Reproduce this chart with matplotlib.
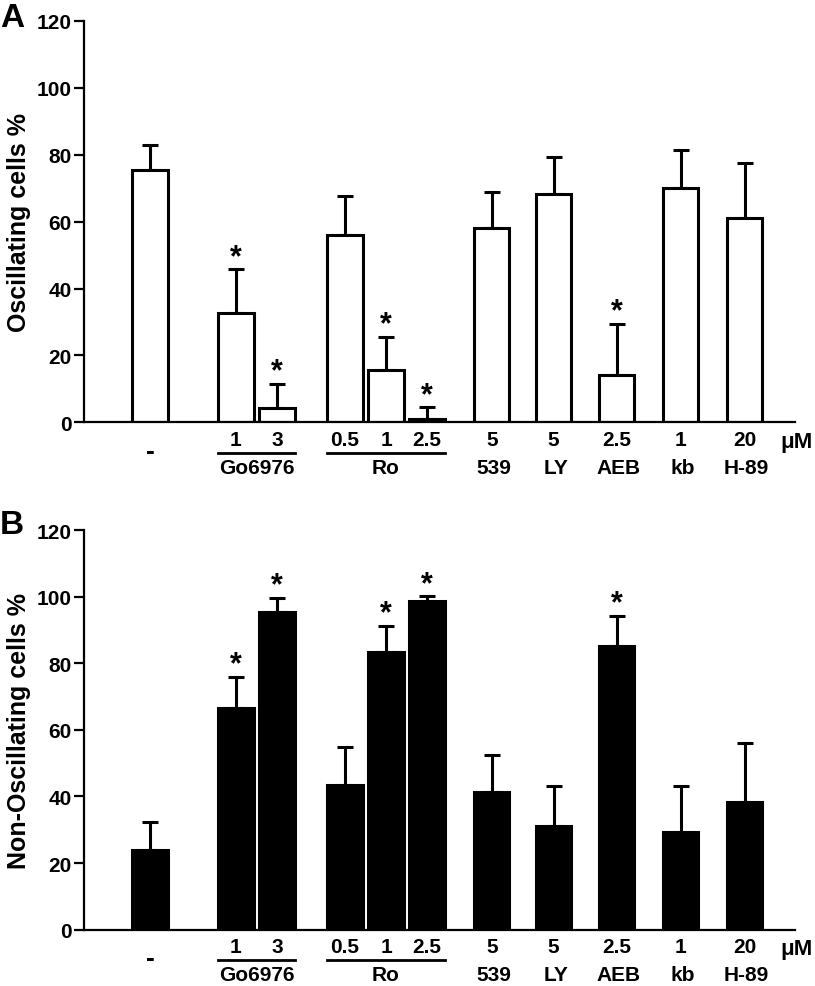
import numpy as np
import matplotlib
matplotlib.use('Agg')
import matplotlib.pyplot as plt
import matplotlib.transforms as mtransforms

plt.rcParams['font.family'] = ['Liberation Sans', 'DejaVu Sans']
plt.rcParams['font.weight'] = 'bold'

# data
conc = ['', '1', '3', '0.5', '1', '2.5', '5', '5', '2.5', '1', '20']
osc_mean = [75.5, 32.8, 4.3, 56.0, 15.7, 0.9, 58.0, 68.3, 14.2, 69.9, 61.1]
osc_err = [7.3, 12.9, 7.3, 11.5, 9.8, 3.6, 10.8, 11.1, 15.3, 11.6, 16.4]
osc_sig = [False, True, True, False, True, True, False, False, True, False, False]
non_mean = [24.0, 66.7, 95.3, 43.5, 83.4, 98.6, 41.4, 31.0, 85.1, 29.4, 38.4]
non_err = [8.4, 9.3, 4.4, 11.5, 7.8, 1.5, 11.0, 12.1, 9.1, 13.7, 17.6]
non_sig = [False, True, True, False, True, True, False, False, True, False, False]
single_names = ['539', 'LY', 'AEB', 'kb', 'H-89']
groups = [('Go6976', 1, 2), ('Ro', 3, 5)]

# layout (bar centres, in bar-pitch units)
pos = np.array([1.61, 3.71, 4.71, 6.37, 7.37, 8.37, 9.95, 11.46, 13.0, 14.56, 16.12])
width = 0.86
fs = 15


def draw_panel(ax, means, errs, sig, color, ylabel):
    ax.bar(pos, means, width=width, color=color, edgecolor='black', linewidth=2.2, zorder=2)
    lower = np.zeros(len(means))
    ax.errorbar(pos, means, yerr=[lower, errs], fmt='none', ecolor='black',
                elinewidth=2.2, capsize=6, capthick=2.2, zorder=1)
    for x, m, e, s in zip(pos, means, errs, sig):
        if s:
            ax.text(x, m + e + 1.3, '*', ha='center', va='baseline', fontsize=22, fontweight='bold')

    ax.set_xlim(0, 17.34)
    ax.set_ylim(0, 120)
    ax.set_yticks(np.arange(0, 121, 20))
    ax.tick_params(axis='y', length=7, width=1.6, labelsize=fs, pad=2)
    ax.set_xticks([])
    for side in ['top', 'right']:
        ax.spines[side].set_visible(False)
    for side in ['left', 'bottom']:
        ax.spines[side].set_linewidth(1.6)
    ax.set_ylabel(ylabel, fontsize=18, fontweight='bold', labelpad=4)

    trans = mtransforms.blended_transform_factory(ax.transData, ax.transAxes)
    for x, c in zip(pos, conc):
        if c:
            ax.text(x, -0.042, c, transform=trans, ha='center', va='center', fontsize=fs)
    ax.text(pos[0], -0.07, '-', transform=trans, ha='center', va='center', fontsize=fs + 4)
    ax.text(17.0, -0.047, 'μM', transform=trans, ha='left', va='center', fontsize=fs + 1)
    for name, i0, i1 in groups:
        ax.plot([pos[i0] - width / 2, pos[i1] + width / 2], [-0.075, -0.075], transform=trans,
                color='black', lw=2, clip_on=False)
        ax.text((pos[i0] + pos[i1]) / 2, -0.113, name, transform=trans, ha='center', va='center', fontsize=fs)
    for x, name in zip(pos[6:], single_names):
        ax.text(x + 0.05, -0.113, name, transform=trans, ha='center', va='center', fontsize=fs)


fig = plt.figure(figsize=(8.15, 9.87), dpi=100)
ax1 = fig.add_axes([0.103, 0.571, 0.872, 0.407])
ax2 = fig.add_axes([0.103, 0.057, 0.872, 0.405])

draw_panel(ax1, osc_mean, osc_err, osc_sig, 'white', 'Oscillating cells %')
draw_panel(ax2, non_mean, non_err, non_sig, 'black', 'Non-Oscillating cells %')

fig.text(0.0, 1 - 3 / 987, 'A', ha='left', va='top', fontsize=24, fontweight='bold')
fig.text(0.0, 1 - 510 / 987, 'B', ha='left', va='top', fontsize=24, fontweight='bold')

fig.savefig('out.png', dpi=100)
